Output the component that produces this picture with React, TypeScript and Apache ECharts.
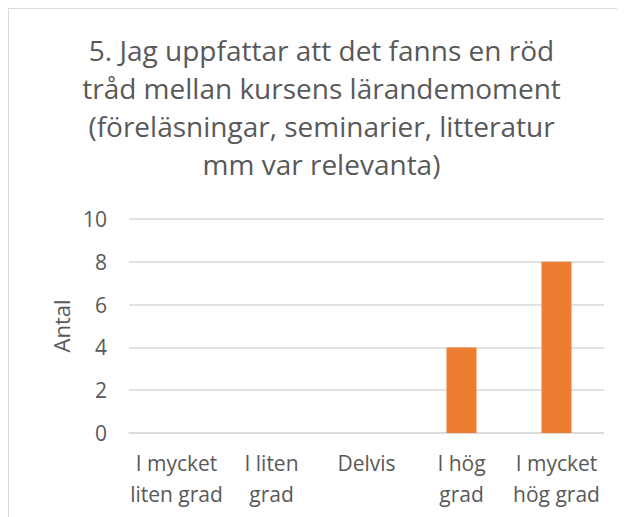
import React, { useEffect, useRef } from "react";
import * as echarts from "echarts";

const titleLines = [
  "5. Jag uppfattar att det fanns en röd",
  "tråd mellan kursens lärandemoment",
  "(föreläsningar, seminarier, litteratur",
  "mm var relevanta)",
];
const categories = [
  "I mycket\nliten grad",
  "I liten\ngrad",
  "Delvis",
  "I hög\ngrad",
  "I mycket\nhög grad",
];
const values = [0, 0, 0, 4, 8];
const yAxisName = "Antal";
const yMin = 0;
const yMax = 10;
const yInterval = 2;

const FONT = "'Open Sans', 'Noto Sans', sans-serif";
const TEXT = "#595959";
const GRID = "#D9D9D9";

export default function App() {
  const ref = useRef<HTMLDivElement>(null);
  useEffect(() => {
    if (!ref.current) return;
    const chart = echarts.init(ref.current, undefined, { renderer: "svg" });
    chart.setOption({
      animation: false,
      backgroundColor: "#ffffff",
      textStyle: { fontFamily: FONT },
      graphic: [
        {
          type: "text",
          x: 312.5,
          y: 22,
          style: {
            text: titleLines.join("\n"),
            fontFamily: FONT,
            fontSize: 28,
            lineHeight: 38,
            fill: TEXT,
            textAlign: "center",
            textVerticalAlign: "top",
          },
        },
      ],
      grid: { left: 120, top: 210, width: 475, height: 214, containLabel: false },
      xAxis: {
        type: "category",
        data: categories,
        axisLine: { show: true, lineStyle: { color: GRID, width: 1.5 } },
        axisTick: { show: false },
        axisLabel: {
          color: TEXT,
          fontFamily: FONT,
          fontSize: 21,
          lineHeight: 31,
          margin: 14,
          interval: 0,
        },
      },
      yAxis: {
        type: "value",
        min: yMin,
        max: yMax,
        interval: yInterval,
        name: yAxisName,
        nameLocation: "middle",
        nameGap: 55,
        nameRotate: 90,
        nameTextStyle: { color: TEXT, fontFamily: FONT, fontSize: 22 },
        axisLine: { show: false },
        axisTick: { show: false },
        axisLabel: { color: TEXT, fontFamily: FONT, fontSize: 21, margin: 22 },
        splitLine: { lineStyle: { color: GRID, width: 1.5 } },
      },
      series: [
        {
          type: "bar",
          data: values,
          barWidth: 30,
          itemStyle: { color: "#ED7D31" },
        },
      ],
    });
    return () => chart.dispose();
  }, []);
  return (
    <div
      ref={ref}
      style={{
        width: 616,
        height: 508,
        borderTop: "1px solid #D9D9D9",
        borderLeft: "1px solid #D9D9D9",
        background: "#fff",
      }}
    />
  );
}
